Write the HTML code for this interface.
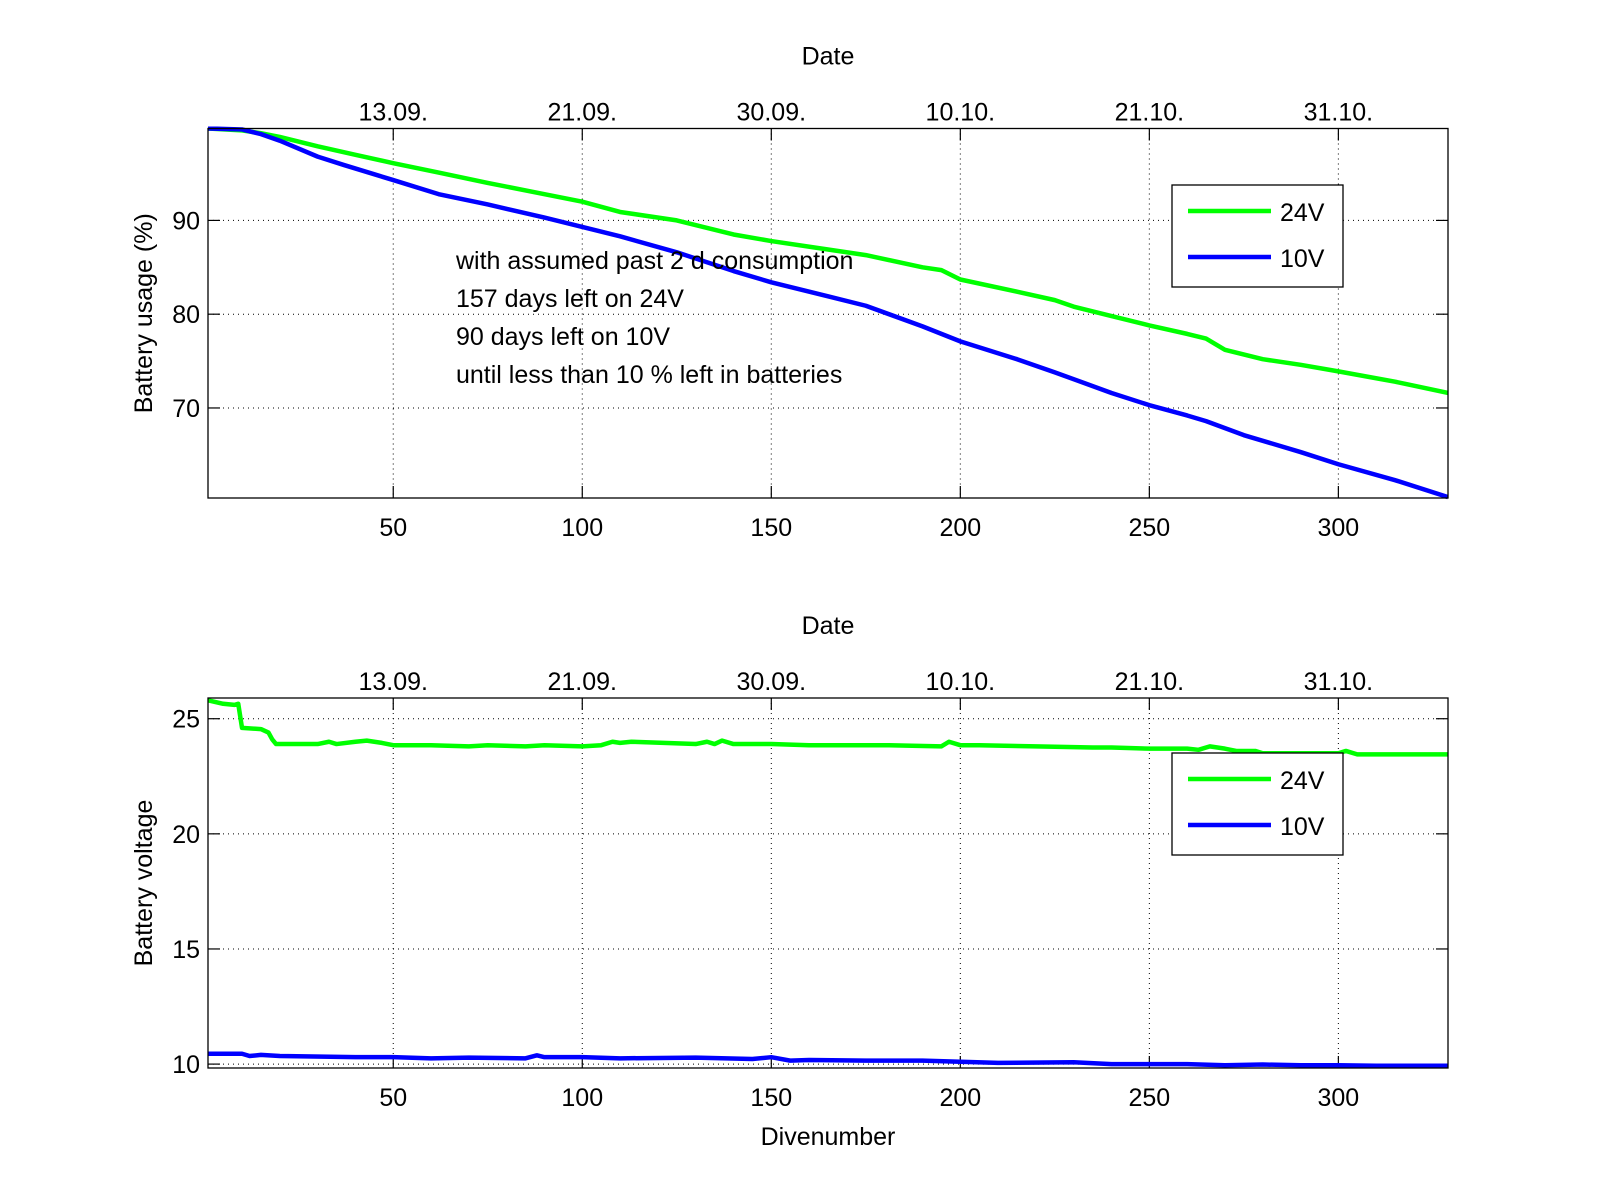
<!DOCTYPE html>
<html><head><meta charset="utf-8"><style>
html,body{margin:0;padding:0;background:#fff;}
svg{display:block;font-family:"Liberation Sans",sans-serif;}
</style></head><body>
<svg id="fig" width="1600" height="1200" viewBox="0 0 1600 1200" xmlns="http://www.w3.org/2000/svg"></svg>
<script>
// ---- data ----
const xTicks = [50,100,150,200,250,300];
const dateLabels = ["13.09.","21.09.","30.09.","10.10.","21.10.","31.10."];
const usageTicks = [70,80,90];
const voltTicks = [10,15,20,25];
const usageDives = [1,10,15,20,30,40,50,62,75,90,100,110,125,140,150,165,175,190,195,200,215,225,230,240,250,260,265,270,280,290,300,315,329];
const usage24 = [99.8,99.6,99.3,98.9,97.9,97.0,96.1,95.1,94.0,92.8,92.0,90.9,90.0,88.5,87.8,86.9,86.3,85.0,84.7,83.7,82.4,81.5,80.8,79.8,78.8,77.9,77.4,76.2,75.2,74.6,73.9,72.8,71.6];
const usageDives10 = [1,10,15,20,30,37,50,62,75,90,100,110,125,140,150,165,175,190,200,215,225,240,250,260,265,275,290,300,315,329];
const usage10 = [99.8,99.7,99.2,98.5,96.8,95.9,94.3,92.8,91.7,90.3,89.3,88.3,86.6,84.6,83.4,81.9,80.9,78.7,77.1,75.2,73.8,71.6,70.3,69.2,68.6,67.1,65.3,64.0,62.3,60.5];
const voltDives = [1,5,8,9,10,15,17,18,19,30,33,35,40,43,47,50,60,70,75,85,90,100,105,108,110,113,130,133,135,137,140,150,160,170,180,195,197,200,205,220,235,240,250,260,263,266,270,273,278,280,300,302,305,329];
const volt24 = [25.8,25.65,25.6,25.65,24.6,24.55,24.4,24.1,23.9,23.9,24.0,23.9,24.0,24.05,23.95,23.85,23.85,23.8,23.85,23.8,23.85,23.8,23.85,24.0,23.95,24.0,23.9,24.0,23.9,24.05,23.9,23.9,23.85,23.85,23.85,23.8,24.0,23.85,23.85,23.8,23.75,23.75,23.7,23.7,23.65,23.8,23.7,23.6,23.6,23.5,23.5,23.6,23.45,23.45];
const voltDives10 = [1,10,12,15,20,40,50,60,70,85,88,90,100,110,130,145,150,155,160,175,190,200,210,230,240,260,270,280,290,300,310,329];
const volt10 = [10.45,10.45,10.35,10.4,10.35,10.3,10.3,10.25,10.28,10.25,10.38,10.3,10.3,10.25,10.28,10.22,10.3,10.15,10.18,10.15,10.15,10.1,10.05,10.08,10.0,10.0,9.95,9.98,9.95,9.95,9.93,9.93];

const NS="http://www.w3.org/2000/svg";
const svg=document.getElementById('fig');
function el(tag,attrs,parent){const e=document.createElementNS(NS,tag);for(const k in attrs)e.setAttribute(k,attrs[k]);(parent||svg).appendChild(e);return e;}
const L=208,R=1448,XMIN=1,XMAX=329;
const sx=d=>L+(d-XMIN)/(XMAX-XMIN)*(R-L);

function panel(name,top,bot,ymin,ymax,yTicks,ylabel,s24x,s24,s10x,s10,legTop,showXlabel){
  const g=el('g',{});
  
  
  const sy=v=>bot-(v-ymin)/(ymax-ymin)*(bot-top);
  // grid + ticks
  xTicks.forEach((t,i)=>{
    const x=sx(t);
    const gl=el('line',{x1:x,y1:top,x2:x,y2:bot,stroke:'#000','stroke-width':1,'stroke-dasharray':'1,4'},g);
    
    
    el('line',{x1:x,y1:bot,x2:x,y2:bot-12,stroke:'#000','stroke-width':1.2},g);
    el('line',{x1:x,y1:top,x2:x,y2:top+12,stroke:'#000','stroke-width':1.2},g);
    const tl=el('text',{x:x,y:bot+38,'font-size':25,'text-anchor':'middle'},g);tl.textContent=t;
    
    
    const dl=el('text',{x:x,y:top-8,'font-size':25,'text-anchor':'middle'},g);dl.textContent=dateLabels[i];
    
    
  });
  yTicks.forEach(t=>{
    const y=sy(t);
    const gl=el('line',{x1:L,y1:y,x2:R,y2:y,stroke:'#000','stroke-width':1,'stroke-dasharray':'1,4'},g);
    
    
    el('line',{x1:L,y1:y,x2:L+12,y2:y,stroke:'#000','stroke-width':1.2},g);
    el('line',{x1:R,y1:y,x2:R-12,y2:y,stroke:'#000','stroke-width':1.2},g);
    const tl=el('text',{x:L-8,y:y+9,'font-size':25,'text-anchor':'end'},g);tl.textContent=t;
    
    
  });
  // series
  const clipId='clip-'+name;
  const cp=el('clipPath',{id:clipId},g);el('rect',{x:L,y:top-2,width:R-L,height:bot-top+4},cp);
  const p24=el('polyline',{points:s24x.map((d,i)=>sx(d)+','+sy(s24[i])).join(' '),fill:'none',stroke:'#00ff00','stroke-width':4.5,'stroke-linejoin':'round','clip-path':'url(#'+clipId+')'},g);
  
  
  const p10=el('polyline',{points:s10x.map((d,i)=>sx(d)+','+sy(s10[i])).join(' '),fill:'none',stroke:'#0000ff','stroke-width':4.5,'stroke-linejoin':'round','clip-path':'url(#'+clipId+')'},g);
  
  
  // frame
  const fr=el('rect',{x:L,y:top,width:R-L,height:bot-top,fill:'none',stroke:'#000','stroke-width':1.3},g);
  
  
  // titles
  const dt=el('text',{x:(L+R)/2,y:top-64,'font-size':25,'text-anchor':'middle'},g);dt.textContent='Date';
  
  
  const yl=el('text',{x:0,y:0,'font-size':25,'text-anchor':'middle',transform:'translate(152,'+((top+bot)/2)+') rotate(-90)'},g);yl.textContent=ylabel;
  
  
  if(showXlabel){const xl=el('text',{x:(L+R)/2,y:bot+77,'font-size':25,'text-anchor':'middle'},g);xl.textContent='Divenumber';
    
    }
  // legend
  const lg=el('g',{},g);
  
  
  el('rect',{x:1172,y:legTop,width:171,height:102,fill:'#fff',stroke:'#000','stroke-width':1.3},lg);
  el('line',{x1:1188,y1:legTop+26,x2:1271,y2:legTop+26,stroke:'#00ff00','stroke-width':4.5},lg);
  el('line',{x1:1188,y1:legTop+72,x2:1271,y2:legTop+72,stroke:'#0000ff','stroke-width':4.5},lg);
  const t1=el('text',{x:1280,y:legTop+36,'font-size':25},lg);t1.textContent='24V';
  
  
  const t2=el('text',{x:1280,y:legTop+82,'font-size':25},lg);t2.textContent='10V';
  
  
  return g;
}
panel('usage-panel',128.5,498,60.4,99.8,usageTicks,'Battery usage (%)',usageDives,usage24,usageDives10,usage10,185,false);
panel('voltage-panel',698,1068,9.83,25.9,voltTicks,'Battery voltage',voltDives,volt24,voltDives10,volt10,753,true);

const notes=["with assumed past 2 d consumption","157 days left on 24V","90 days left on 10V","until less than 10 % left in batteries"];
notes.forEach((s,i)=>{
  const t=el('text',{x:456,y:269+i*38,'font-size':25});
  t.textContent=s;
  
  
});
</script>
</body></html>
